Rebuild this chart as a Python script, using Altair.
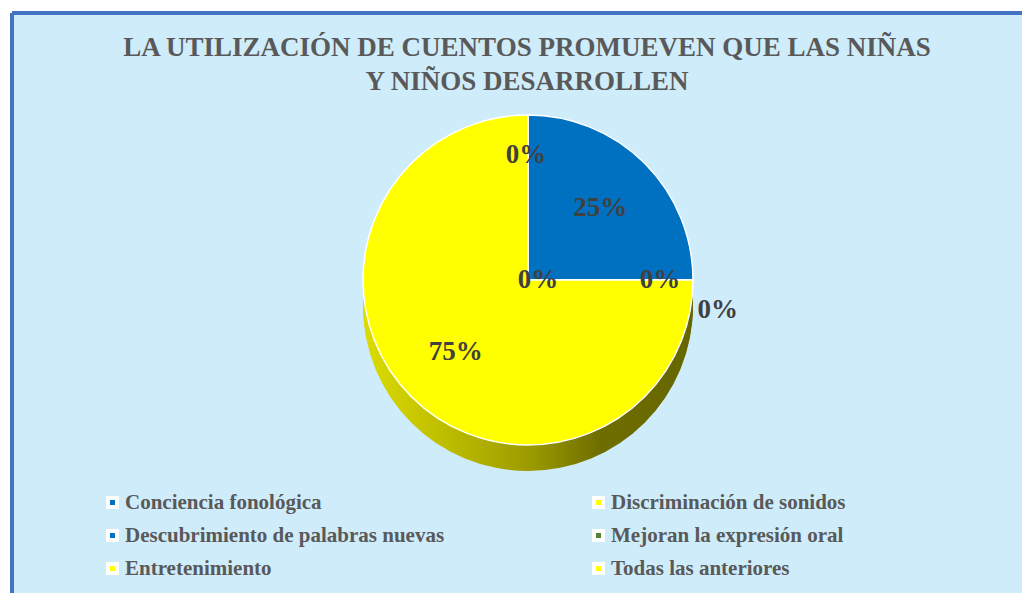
import altair as alt
import pandas as pd

# ---- data ----
categories = [
    "Conciencia fonológica",
    "Discriminación de sonidos",
    "Descubrimiento de palabras nuevas",
    "Mejoran la expresión oral",
    "Entretenimiento",
    "Todas las anteriores",
]
values = [0.25, 0.0, 0.0, 0.0, 0.75, 0.0]
colors = ["#0070C0", "#FFFF00", "#0070C0", "#548235", "#FFFF00", "#FFFF00"]
title_lines = [
    "LA UTILIZACIÓN DE CUENTOS PROMUEVEN QUE LAS NIÑAS",
    "Y NIÑOS DESARROLLEN",
]

df = pd.DataFrame({"cat": categories, "value": values, "idx": list(range(len(categories)))})

# ---- layout / style ----
W, H = 1010, 580
CX, CY, R = 516, 267, 165
DEPTH = 26
FONT = "Liberation Serif"
BG = "#CFECFA"
BORDER = "#4472C4"

base = alt.Chart(df)
theta = alt.Theta("value:Q", stack=True)
order = alt.Order("idx:Q", sort="ascending")

side_gradient = {
    "gradient": "linear",
    "x1": 0, "x2": 1, "y1": 0, "y2": 0,
    "stops": [
        {"offset": 0.0, "color": "#DCDC00"},
        {"offset": 0.25, "color": "#BDBD00"},
        {"offset": 0.5, "color": "#9C9C00"},
        {"offset": 0.72, "color": "#6E6E00"},
        {"offset": 1.0, "color": "#666600"},
    ],
}

side_layers = [
    base.mark_arc(radius=R, color=side_gradient).encode(
        theta=theta, order=order, x=alt.value(CX), y=alt.value(CY + k)
    )
    for k in range(DEPTH, 0, -2)
]

top = base.mark_arc(radius=R, stroke="white", strokeWidth=1.5).encode(
    theta=theta,
    order=order,
    x=alt.value(CX),
    y=alt.value(CY),
    color=alt.Color(
        "cat:N",
        sort=categories,
        scale=alt.Scale(domain=categories, range=colors),
        legend=alt.Legend(
            title=None,
            orient="none",
            legendX=90,
            legendY=479,
            direction="horizontal",
            columns=2,
            columnPadding=141,
            rowPadding=8,
            symbolType="square",
            symbolSize=81,
            symbolStrokeColor="white",
            symbolStrokeWidth=4,
            labelFont=FONT,
            labelFontSize=21,
            labelFontWeight="bold",
            labelColor="#595959",
            labelLimit=0,
            labelOffset=2,
        ),
    ),
)

# label placement per slice: (radius factor, dx, dy)
label_pos = {
    "Conciencia fonológica": (0.62, 0, 0),
    "Discriminación de sonidos": (0.80, 0, 0),
    "Descubrimiento de palabras nuevas": (1.15, 0, 30),
    "Mejoran la expresión oral": (0.0, 10, 0),
    "Entretenimiento": (0.62, 0, 0),
    "Todas las anteriores": (0.76, -2, 0),
}

text_layers = []
for cat, (rf, dx, dy) in label_pos.items():
    text_layers.append(
        base.mark_text(
            radius=R * rf, dx=dx, dy=dy,
            font=FONT, fontSize=27, fontWeight="bold", color="#404040",
            baseline="middle", align="center",
        ).encode(
            theta=theta,
            order=order,
            x=alt.value(CX),
            y=alt.value(CY),
            text=alt.condition(
                alt.datum.cat == cat,
                alt.Text("value:Q", format=".0%"),
                alt.value(""),
            ),
        )
    )

border_left = base.mark_rule(color=BORDER, strokeWidth=3.5).encode(
    x=alt.value(0), y=alt.value(0), y2=alt.value(H + 10)
)
border_top = base.mark_rule(color=BORDER, strokeWidth=3.5).encode(
    x=alt.value(0), x2=alt.value(W + 10), y=alt.value(0)
)

chart = (
    alt.layer(*side_layers, top, *text_layers, border_left, border_top)
    .properties(
        width=W,
        height=H,
        background="white",
        padding={"left": 4, "top": 5, "right": 0, "bottom": 0},
        autosize=alt.AutoSizeParams(type="none"),
        title=alt.TitleParams(
            text=title_lines,
            font=FONT,
            fontSize=27,
            fontWeight="bold",
            color="#595959",
            anchor="middle",
            baseline="top",
            offset=0,
            dy=85,
            dx=10,
            lineHeight=34,
        ),
    )
    .configure_view(fill=BG, stroke="transparent")
)

chart.save("out.html", embed_options={"renderer": "svg", "actions": False})
